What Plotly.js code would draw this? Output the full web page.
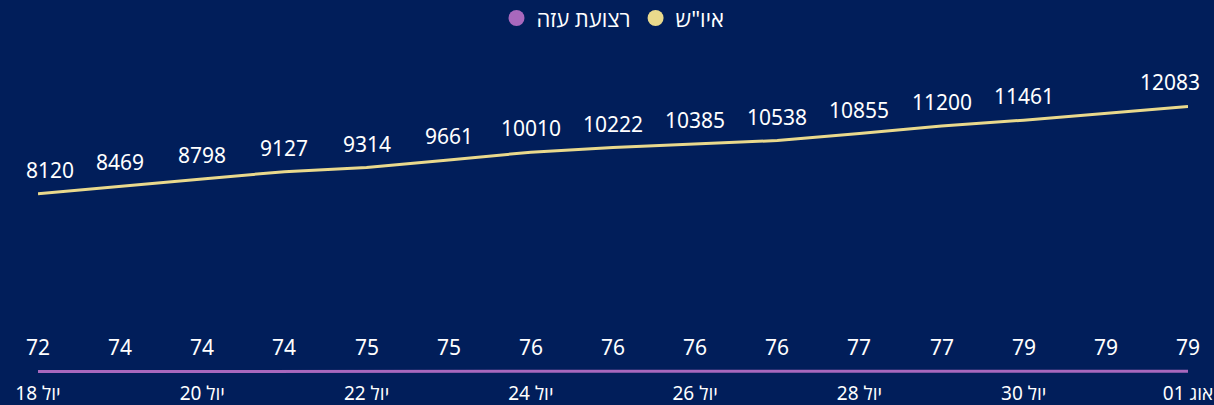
<!DOCTYPE html>
<html>
<head>
<meta charset="utf-8">
<script src="https://cdn.plot.ly/plotly-3.0.1.min.js"></script>
<style>
html,body{margin:0;padding:0;background:#011e5a;}
#chart{width:1214px;height:405px;}
</style>
</head>
<body>
<div id="chart"></div>
<script>
// Data
const dates = ['2024-07-18','2024-07-19','2024-07-20','2024-07-21','2024-07-22','2024-07-23','2024-07-24','2024-07-25','2024-07-26','2024-07-27','2024-07-28','2024-07-29','2024-07-30','2024-07-31','2024-08-01'];
const westBank = [8120, 8469, 8798, 9127, 9314, 9661, 10010, 10222, 10385, 10538, 10855, 11200, 11461, 11770, 12083];
const gaza = [72, 74, 74, 74, 75, 75, 76, 76, 76, 76, 77, 77, 79, 79, 79];
const hiddenLabelIndex = [13];
const tickDates = ['2024-07-18','2024-07-20','2024-07-22','2024-07-24','2024-07-26','2024-07-28','2024-07-30','2024-08-01'];
const tickLabels = ['יול 18','יול 20','יול 22','יול 24','יול 26','יול 28','יול 30','אוג 01'];
const seriesNames = ['איו"ש', 'רצועת עזה'];
const seriesColors = ['#e9d98c', '#a868bd'];

const FONT = 'Segoe UI, "Noto Sans", "Open Sans", sans-serif';
const LABEL_FONT = {color: '#ffffff', size: 21, family: FONT};

const traces = [
  {
    x: dates, y: westBank, type: 'scatter', mode: 'lines',
    line: {color: seriesColors[0], width: 3},
    showlegend: false, hoverinfo: 'x+y'
  },
  {
    x: dates, y: gaza, type: 'scatter', mode: 'lines',
    line: {color: seriesColors[1], width: 3},
    showlegend: false, hoverinfo: 'x+y'
  },
  // legend entries (circle markers)
  {
    x: [null], y: [null], type: 'scatter', mode: 'markers', name: seriesNames[1],
    marker: {size: 17, color: seriesColors[1]}, showlegend: true
  },
  {
    x: [null], y: [null], type: 'scatter', mode: 'markers', name: seriesNames[0],
    marker: {size: 17, color: seriesColors[0]}, showlegend: true
  }
];

const annotations = [];
const last = dates.length - 1;
westBank.forEach((v, i) => {
  if (hiddenLabelIndex.includes(i)) return;
  annotations.push({
    x: dates[i], y: v, xref: 'x', yref: 'y', text: String(v), showarrow: false,
    xanchor: 'center', yanchor: 'middle', yshift: 24,
    xshift: i === 0 ? 12 : (i === last ? -18 : 0),
    font: LABEL_FONT
  });
});
gaza.forEach((v, i) => {
  annotations.push({
    x: dates[i], y: v, xref: 'x', yref: 'y', text: String(v), showarrow: false,
    xanchor: 'center', yanchor: 'middle', yshift: 24,
    font: LABEL_FONT
  });
});

const layout = {
  width: 1214, height: 405,
  paper_bgcolor: '#011e5a', plot_bgcolor: '#011e5a',
  margin: {l: 38, r: 26, t: 60, b: 25, pad: 0},
  font: {family: FONT, color: '#ffffff', size: 18},
  showlegend: true,
  legend: {
    orientation: 'h', x: 0.5, xanchor: 'center', yref: 'container', y: 0.955, yanchor: 'middle',
    font: {size: 22, color: '#ffffff', family: FONT}, itemwidth: 30, tracegroupgap: 0,
    bgcolor: 'rgba(0,0,0,0)'
  },
  annotations: annotations,
  xaxis: {
    type: 'date', range: [dates[0], dates[last]],
    tickvals: tickDates, ticktext: tickLabels, tickmode: 'array',
    showgrid: false, zeroline: false, showline: false, ticks: '',
    ticklabeloverflow: 'allow',
    tickfont: {size: 19, color: '#ffffff', family: FONT}
  },
  yaxis: {
    range: [-317, 14189], visible: false, showgrid: false, zeroline: false, fixedrange: true
  }
};

Plotly.newPlot('chart', traces, layout, {displayModeBar: false, staticPlot: true});
</script>
</body>
</html>
